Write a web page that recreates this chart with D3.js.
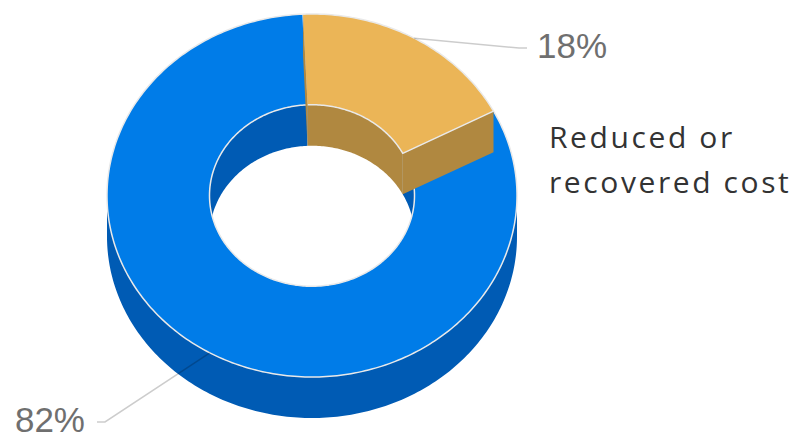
<!DOCTYPE html>
<html>
<head>
<meta charset="utf-8">
<script src="https://cdn.jsdelivr.net/npm/d3@7"></script>
<style>
  html, body { margin: 0; padding: 0; background: #ffffff; }
  svg { display: block; }
</style>
</head>
<body>
<svg id="chart" width="801" height="445"></svg>
<script>
// ---- data ----
const categories = ["Reduced or recovered cost", "Other"];
const values = [18, 82];
const pointLabels = ["18%", "82%"];
const legendLines = ["Reduced or", "recovered cost"];

// ---- styles ----
const topColors  = ["#ebb557", "#007ce8"];
const sideColors = ["#b08840", "#005bb4"];

// ---- layout ----
const W = 801, H = 445;
const cx = 312, cy = 195.5, rx = 205, ry = 181.5, innerR = 0.5, depth = 41;
const rad = d => d * Math.PI / 180;

const svg = d3.select("#chart");

const pie = d3.pie().sort(null).value(d => d)
  .startAngle(rad(-2.5)).endAngle(rad(357.5));
const arcs = pie(values);

// project an angle (0 = 12 o'clock, clockwise), radius fraction, and vertical drop
const xs = d3.scaleLinear().domain([-1, 1]).range([cx - rx, cx + rx]);
const ys = d3.scaleLinear().domain([-1, 1]).range([cy - ry, cy + ry]);
function P(a, r, dz) {
  return [xs(r * Math.sin(a)), ys(-r * Math.cos(a)) + dz];
}
function arcPts(a0, a1, r, dz) {
  const n = Math.max(2, Math.ceil(Math.abs(a1 - a0) / rad(1)));
  return d3.range(n + 1).map(i => P(a0 + (a1 - a0) * i / n, r, dz));
}
const line = d3.line();
function intersect(a0, a1, ranges) {
  const out = [];
  ranges.forEach(([b0, b1]) => {
    const s = Math.max(a0, b0), e = Math.min(a1, b1);
    if (e > s) out.push([s, e]);
  });
  return out;
}
const outerVisible = [[rad(90), rad(270)]];
const innerVisible = [[rad(-90), rad(90)], [rad(270), rad(450)]];

function band(a0, a1, r) {
  const top = arcPts(a0, a1, r, 0);
  const bot = arcPts(a1, a0, r, depth);
  return line(top.concat(bot)) + "Z";
}
function sideFace(a) {
  return line([P(a, innerR, 0), P(a, 1, 0), P(a, 1, depth), P(a, innerR, depth)]) + "Z";
}

// draw order: the large slice first, then the small one on top
const order = [1, 0];
const g = svg.append("g");
order.forEach(i => {
  const d = arcs[i];
  const a0 = d.startAngle, a1 = d.endAngle;
  const sg = g.append("g").attr("class", "slice-" + i);
  // inner walls (back half of the hole)
  intersect(a0, a1, innerVisible).forEach(([s, e]) => {
    sg.append("path").attr("d", band(s, e, innerR)).attr("fill", sideColors[i]);
  });
  // outer walls (front half)
  intersect(a0, a1, outerVisible).forEach(([s, e]) => {
    sg.append("path").attr("d", band(s, e, 1)).attr("fill", sideColors[i]);
  });
  // top face
  const topPts = arcPts(a0, a1, 1, 0).concat(arcPts(a1, a0, innerR, 0));
  if (i === 0) {
    // end face of the small slice
    sg.append("path").attr("d", sideFace(a1)).attr("fill", sideColors[i]);
  }
  sg.append("path").attr("d", line(topPts) + "Z").attr("fill", topColors[i]);
  // edge strokes
  const strokePts = arcPts(a0, a1, 1, 0).concat(arcPts(a1, a0, innerR, 0));
  sg.append("path").attr("d", line(strokePts))
    .attr("fill", "none").attr("stroke", "#e9e9e9").attr("stroke-width", 1.5)
    .attr("stroke-linejoin", "round");
  if (i === 0) {
    // start face sliver
    sg.append("path").attr("d", sideFace(a0)).attr("fill", sideColors[i]);
  }
});

// ---- data labels with connectors ----
const labelFont = "'Liberation Sans', Arial, Helvetica, sans-serif";
arcs.forEach((d, i) => {
  const mid = (d.startAngle + d.endAngle) / 2;
  const side = Math.sin(mid) >= 0 ? 1 : -1;
  const start = P(mid, 1, 0);
  let ly = ys(-Math.cos(mid) * 1.22) + (Math.cos(mid) < 0 ? depth : 0);
  ly = Math.max(48, Math.min(422, ly));
  const bx = cx + side * 207;
  const ex = bx + side * 8;
  svg.append("path")
    .attr("d", line([start, [bx, ly], [ex, ly]]))
    .attr("fill", "none").attr("stroke", "rgba(0,0,0,0.2)").attr("stroke-width", 1.5);
  svg.append("text")
    .attr("x", ex + side * (side > 0 ? 10 : 12)).attr("y", ly + 10)
    .attr("text-anchor", side > 0 ? "start" : "end")
    .attr("font-family", labelFont).attr("font-size", 35)
    .attr("fill", "#6f6f6f")
    .text(pointLabels[i]);
});

// ---- legend text ----
const legend = svg.append("text")
  .attr("font-family", "'Open Sans', sans-serif").attr("font-size", 30)
  .attr("letter-spacing", 2.6).attr("fill", "#333333");
legendLines.forEach((t, k) => {
  legend.append("tspan").attr("x", 549).attr("y", 148 + k * 45).text(t);
});
</script>
</body>
</html>
